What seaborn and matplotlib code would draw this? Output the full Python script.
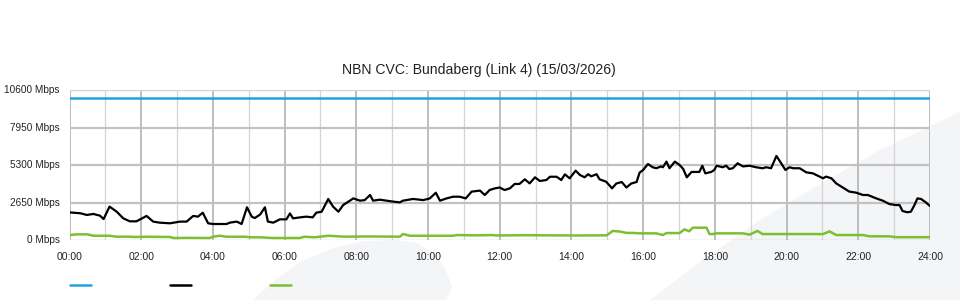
import numpy as np
import pandas as pd
import matplotlib
matplotlib.use("Agg")
import matplotlib.pyplot as plt
from matplotlib.patches import Polygon
import seaborn as sns

# ---------------- data ----------------
title = "NBN CVC: Bundaberg (Link 4) (15/03/2026)"
y_ticks = [0, 2650, 5300, 7950, 10600]
y_tick_labels = ["0 Mbps", "2650 Mbps", "5300 Mbps", "7950 Mbps", "10600 Mbps"]
x_tick_labels = ["00:00", "02:00", "04:00", "06:00", "08:00", "10:00", "12:00",
                 "14:00", "16:00", "18:00", "20:00", "22:00", "24:00"]

capacity_min = [0, 1440]
capacity_mbps = [10000, 10000]

download_min = [0, 18, 29, 40, 51, 57, 67, 79, 90, 101, 112, 129, 140, 151, 168, 185,
                196, 207, 215, 223, 232, 240, 263, 268, 280, 288, 297, 305, 310, 319,
                327, 332, 341, 352, 363, 369, 374, 386, 396, 407, 413, 422, 433, 441,
                450, 458, 475, 486, 494, 503, 508, 519, 530, 542, 553, 558, 575, 592,
                603, 613, 620, 631, 642, 653, 663, 673, 687, 695, 703, 712, 720, 728,
                737, 745, 753, 762, 770, 779, 787, 798, 804, 815, 823, 829, 837, 847,
                854, 862, 868, 873, 882, 887, 898, 908, 915, 924, 932, 940, 949, 954,
                960, 968, 976, 982, 990, 993, 999, 1004, 1013, 1021, 1027, 1033, 1041,
                1049, 1054, 1059, 1064, 1074, 1079, 1083, 1093, 1099, 1104, 1110, 1118,
                1127, 1138, 1149, 1160, 1166, 1174, 1183, 1191, 1198, 1205, 1211, 1222,
                1233, 1244, 1255, 1261, 1266, 1275, 1283, 1294, 1305, 1316, 1328, 1336,
                1350, 1361, 1372, 1383, 1389, 1394, 1402, 1408, 1414, 1419, 1425, 1433,
                1440]
download_mbps = [1950, 1890, 1770, 1840, 1720, 1480, 2360, 2000, 1530, 1320, 1320, 1700,
                 1300, 1225, 1180, 1300, 1300, 1700, 1650, 1930, 1180, 1130, 1130, 1225,
                 1300, 1130, 2310, 1650, 1550, 1800, 2310, 1300, 1225, 1460, 1460, 1880,
                 1530, 1600, 1650, 1600, 1930, 2000, 2900, 2360, 2000, 2470, 2940, 2780,
                 2820, 3180, 2780, 2850, 2780, 2710, 2660, 2780, 2900, 2820, 2940, 3340,
                 2780, 2940, 3060, 3060, 2940, 3420, 3490, 3180, 3530, 3650, 3710, 3530,
                 3650, 3960, 3960, 4290, 4000, 4430, 4170, 4240, 4470, 4470, 4240, 4640,
                 4360, 4900, 4600, 4430, 4650, 4500, 4650, 4290, 4120, 3650, 3990, 4100,
                 3710, 3990, 4100, 4760, 4950, 5370, 5140, 5070, 5200, 5140, 5540, 5070,
                 5540, 5300, 5020, 4430, 4810, 4810, 4810, 5250, 4710, 4810, 4950, 5250,
                 5140, 5250, 5020, 5070, 5420, 5200, 5250, 5140, 5070, 5140, 5070, 5940,
                 5420, 4950, 5140, 5070, 5070, 4780, 4710, 4480, 4360, 4480, 4360, 4000,
                 3710, 3420, 3350, 3180, 3180, 2940, 2780, 2540, 2470, 2470, 2050, 1960,
                 2000, 2470, 2940, 2900, 2660, 2400]

upload_min = [0, 12, 30, 40, 67, 78, 100, 108, 130, 168, 174, 200, 235, 240, 251, 263,
              295, 302, 320, 340, 385, 393, 410, 425, 433, 460, 500, 553, 558, 570, 600,
              642, 648, 680, 708, 715, 760, 800, 850, 899, 909, 921, 932, 942, 954, 982,
              993, 999, 1021, 1029, 1037, 1043, 1066, 1071, 1076, 1083, 1127, 1138,
              1151, 1160, 1217, 1261, 1272, 1283, 1328, 1339, 1372, 1383, 1440]
upload_mbps = [350, 400, 400, 300, 300, 235, 235, 212, 230, 212, 141, 150, 141, 230, 300,
               230, 230, 190, 190, 141, 141, 230, 190, 260, 300, 235, 250, 235, 420, 300,
               300, 300, 350, 330, 350, 320, 340, 330, 320, 330, 640, 600, 500, 500, 470,
               470, 350, 490, 490, 750, 620, 870, 870, 420, 420, 470, 470, 380, 640, 420,
               420, 420, 610, 350, 350, 260, 260, 200, 200]

# ---------------- style ----------------
sns.set_style("white")
plt.rcParams["font.family"] = ["Liberation Sans", "DejaVu Sans"]

W, H = 960, 300
fig = plt.figure(figsize=(W / 100, H / 100), dpi=100)

# faint background watermark shapes (figure pixel coords, y from top)
def fig_poly(pts, color):
    xy = [(x / W, 1 - y / H) for x, y in pts]
    fig.patches.append(Polygon(xy, closed=True, transform=fig.transFigure,
                               facecolor=color, edgecolor="none", zorder=-10))

wm = "#f4f5f7"
fig_poly([(650, 300), (700, 262), (760, 220), (820, 184), (880, 150), (960, 112),
          (960, 300)], wm)
fig_poly([(253, 300), (275, 280), (300, 262), (333, 248), (365, 241), (395, 240),
          (417, 243), (432, 252), (445, 268), (452, 287), (446, 300)], wm)

left, right, top, bottom = 69.5, 930, 90, 240
ax = fig.add_axes([left / W, 1 - bottom / H, (right - left) / W, (bottom - top) / H])
ax.set_facecolor("none")
ax.set_zorder(2)

# grid: vertical hourly, darker on even hours
for h in range(0, 25):
    even = h % 2 == 0
    ax.axvline(h * 60, color="#bdbdbd" if even else "#d4d4d4",
               lw=1.4 if even else 0.9, zorder=1)
for yv in y_ticks[1:4]:
    ax.axhline(yv, color="#c2c2c2", lw=1.6, zorder=1)
ax.axhline(10600, color="#d4d4d4", lw=1.0, zorder=1)
ax.axhline(0, color="#c8c8c8", lw=1.0, zorder=1)

cap_df = pd.DataFrame({"t": capacity_min, "v": capacity_mbps})
dl_df = pd.DataFrame({"t": download_min, "v": download_mbps})
ul_df = pd.DataFrame({"t": upload_min, "v": upload_mbps})

sns.lineplot(data=cap_df, x="t", y="v", ax=ax, color="#1ea3e0", lw=1.8, zorder=3)
sns.lineplot(data=ul_df, x="t", y="v", ax=ax, color="#7cbf2f", lw=1.8, zorder=3)
sns.lineplot(data=dl_df, x="t", y="v", ax=ax, color="#000000", lw=1.6, zorder=4)

ax.set_xlim(0, 1440)
ax.set_ylim(0, 10600)
ax.set_xlabel("")
ax.set_ylabel("")
for s in ax.spines.values():
    s.set_visible(False)

ax.set_xticks(np.arange(0, 1441, 120))
ax.set_xticklabels(x_tick_labels, fontsize=7.5, color="#222222")
ax.tick_params(axis="x", length=7, width=1.2, color="#bdbdbd", pad=2)
ax.set_yticks(y_ticks)
ax.set_yticklabels(y_tick_labels, fontsize=7.2, color="#222222")
ax.tick_params(axis="y", length=0, pad=7)
for lbl in ax.get_yticklabels():
    lbl.set_va("center")

fig.text(479 / W, 1 - 70 / H, title, ha="center", va="center", fontsize=10.1,
         color="#222222")

# legend swatches (no labels)
for x0, c in [(70, "#1ea3e0"), (170, "#000000"), (270, "#7cbf2f")]:
    fig.add_artist(plt.Line2D([x0 / W, (x0 + 21) / W], [1 - 285 / H, 1 - 285 / H],
                              transform=fig.transFigure, color=c, lw=1.8))

fig.savefig("out.png", dpi=100)
